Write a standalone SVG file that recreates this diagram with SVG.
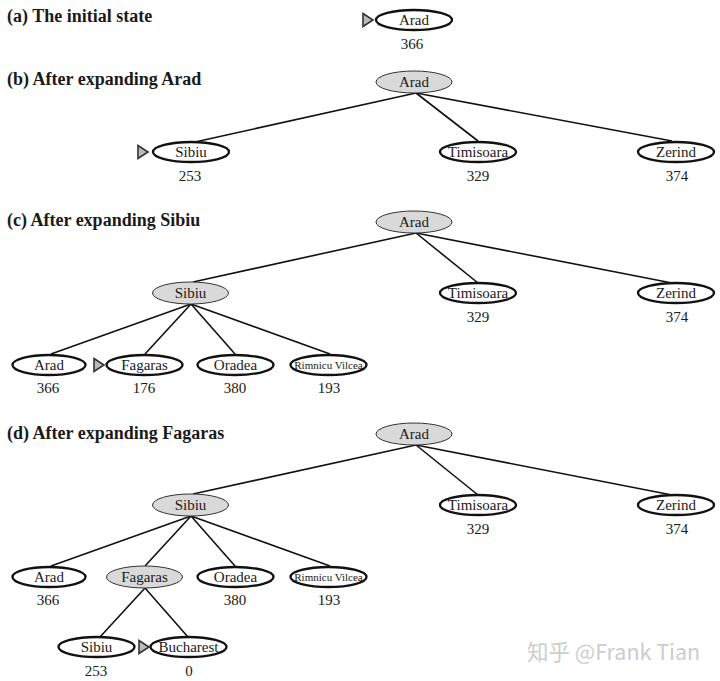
<svg xmlns="http://www.w3.org/2000/svg" width="720" height="681" viewBox="0 0 720 681">
<style>
.title{font-family:"Liberation Serif",serif;font-weight:bold;font-size:18px;fill:#1a1a1a}
.lbl{font-family:"Liberation Serif",serif;font-size:15px;fill:#1a1a1a;text-anchor:middle}
.sm{font-size:11px}
.num{font-family:"Liberation Serif",serif;font-size:15px;fill:#1a1a1a;text-anchor:middle}
.open{fill:#fff;stroke:#111;stroke-width:2.3}
.exp{fill:#d9d9d9;stroke:#333;stroke-width:1}
.edge{stroke:#111;stroke-width:1.6;fill:none}
.tri{fill:#bbb;stroke:#333;stroke-width:1.6;stroke-linejoin:miter}
.wm{font-family:"Noto Sans CJK SC","Noto Sans",sans-serif;font-size:21.5px;fill:#cdcdcd}
</style>
<defs>
<path id="tri" class="tri" d="M-10,-6.5 L0,0 L-10,6.5 Z"/>
</defs>

<text class="title" x="7" y="22">(a) The initial state</text>
<text class="title" x="7" y="85">(b) After expanding Arad</text>
<text class="title" x="7" y="226">(c) After expanding Sibiu</text>
<text class="title" x="7" y="439">(d) After expanding Fagaras</text>

<g id="edges">
<line class="edge" x1="416" y1="93" x2="195" y2="142"/>
<line class="edge" x1="416" y1="93" x2="478" y2="141"/>
<line class="edge" x1="416" y1="93" x2="672" y2="141"/>
<line class="edge" x1="416" y1="233" x2="193" y2="282"/>
<line class="edge" x1="416" y1="233" x2="478" y2="283"/>
<line class="edge" x1="416" y1="233" x2="672" y2="283"/>
<line class="edge" x1="191" y1="304" x2="51" y2="354"/>
<line class="edge" x1="191" y1="304" x2="145" y2="354"/>
<line class="edge" x1="191" y1="304" x2="235" y2="354"/>
<line class="edge" x1="191" y1="304" x2="330" y2="354"/>
<line class="edge" x1="416" y1="445" x2="193" y2="494"/>
<line class="edge" x1="416" y1="445" x2="478" y2="495"/>
<line class="edge" x1="416" y1="445" x2="672" y2="495"/>
<line class="edge" x1="191" y1="516" x2="51" y2="566"/>
<line class="edge" x1="191" y1="516" x2="145" y2="566"/>
<line class="edge" x1="191" y1="516" x2="235" y2="566"/>
<line class="edge" x1="191" y1="516" x2="330" y2="566"/>
<line class="edge" x1="145" y1="588" x2="100" y2="637"/>
<line class="edge" x1="145" y1="588" x2="188" y2="637"/>
</g>

<!-- (a) -->
<g id="a-arad"><use href="#tri" x="373" y="20"/><ellipse class="open" cx="414" cy="20" rx="38" ry="10"/><text class="lbl" x="414" y="25">Arad</text><text class="num" x="412" y="49">366</text></g>

<!-- (b) -->
<g id="b-arad"><ellipse class="exp" cx="414" cy="82" rx="38" ry="11"/><text class="lbl" x="414" y="87">Arad</text></g>
<g id="b-sibiu"><use href="#tri" x="148" y="152"/><ellipse class="open" cx="191" cy="152" rx="38" ry="10"/><text class="lbl" x="191" y="157">Sibiu</text><text class="num" x="190" y="181">253</text></g>
<g id="b-timisoara"><ellipse class="open" cx="478" cy="152" rx="38" ry="10"/><text class="lbl" x="478" y="157">Timisoara</text><text class="num" x="478" y="181">329</text></g>
<g id="b-zerind"><ellipse class="open" cx="676" cy="152" rx="38" ry="10"/><text class="lbl" x="676" y="157">Zerind</text><text class="num" x="677" y="181">374</text></g>

<!-- (c) -->
<g id="c-arad"><ellipse class="exp" cx="414" cy="222" rx="38" ry="11"/><text class="lbl" x="414" y="227">Arad</text></g>
<g id="c-sibiu"><ellipse class="exp" cx="190.5" cy="293" rx="38" ry="11"/><text class="lbl" x="190.5" y="298">Sibiu</text></g>
<g id="c-timisoara"><ellipse class="open" cx="478" cy="293" rx="38" ry="10"/><text class="lbl" x="478" y="298">Timisoara</text><text class="num" x="478" y="322">329</text></g>
<g id="c-zerind"><ellipse class="open" cx="676" cy="293" rx="38" ry="10"/><text class="lbl" x="676" y="298">Zerind</text><text class="num" x="677" y="322">374</text></g>
<g id="c-arad2"><ellipse class="open" cx="49" cy="365" rx="36.5" ry="10"/><text class="lbl" x="49" y="370">Arad</text><text class="num" x="48" y="393">366</text></g>
<g id="c-fagaras"><use href="#tri" x="104" y="365"/><ellipse class="open" cx="144.5" cy="365" rx="38" ry="10"/><text class="lbl" x="144.5" y="370">Fagaras</text><text class="num" x="144" y="393">176</text></g>
<g id="c-oradea"><ellipse class="open" cx="235.5" cy="365" rx="38" ry="10"/><text class="lbl" x="235.5" y="370">Oradea</text><text class="num" x="235" y="393">380</text></g>
<g id="c-rimnicu"><ellipse class="open" cx="328.5" cy="365" rx="38" ry="10"/><text class="lbl sm" x="328.5" y="369">Rimnicu Vilcea</text><text class="num" x="329" y="393">193</text></g>

<!-- (d) -->
<g id="d-arad"><ellipse class="exp" cx="414" cy="434" rx="38" ry="11"/><text class="lbl" x="414" y="439">Arad</text></g>
<g id="d-sibiu"><ellipse class="exp" cx="190.5" cy="505" rx="38" ry="11"/><text class="lbl" x="190.5" y="510">Sibiu</text></g>
<g id="d-timisoara"><ellipse class="open" cx="478" cy="505" rx="38" ry="10"/><text class="lbl" x="478" y="510">Timisoara</text><text class="num" x="478" y="534">329</text></g>
<g id="d-zerind"><ellipse class="open" cx="676" cy="505" rx="38" ry="10"/><text class="lbl" x="676" y="510">Zerind</text><text class="num" x="677" y="534">374</text></g>
<g id="d-arad2"><ellipse class="open" cx="49" cy="577" rx="36.5" ry="10"/><text class="lbl" x="49" y="582">Arad</text><text class="num" x="48" y="605">366</text></g>
<g id="d-fagaras"><ellipse class="exp" cx="144.5" cy="577" rx="38" ry="11"/><text class="lbl" x="144.5" y="582">Fagaras</text></g>
<g id="d-oradea"><ellipse class="open" cx="235.5" cy="577" rx="38" ry="10"/><text class="lbl" x="235.5" y="582">Oradea</text><text class="num" x="235" y="605">380</text></g>
<g id="d-rimnicu"><ellipse class="open" cx="328.5" cy="577" rx="38" ry="10"/><text class="lbl sm" x="328.5" y="581">Rimnicu Vilcea</text><text class="num" x="329" y="605">193</text></g>
<g id="d-sibiu2"><ellipse class="open" cx="96.5" cy="647" rx="38" ry="10"/><text class="lbl" x="96.5" y="652">Sibiu</text><text class="num" x="96" y="676">253</text></g>
<g id="d-bucharest"><use href="#tri" x="149" y="647"/><ellipse class="open" cx="188.5" cy="647" rx="38" ry="10"/><text class="lbl" x="188.5" y="652">Bucharest</text><text class="num" x="189" y="676">0</text></g>

<text class="wm" x="527" y="660">知乎 @Frank Tian</text>
</svg>
